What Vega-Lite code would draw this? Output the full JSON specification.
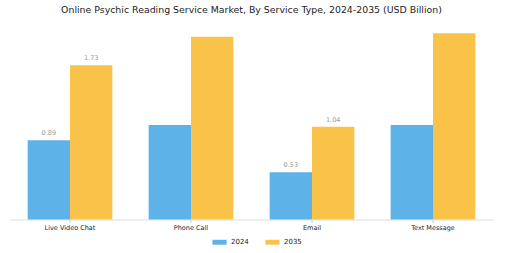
{
  "$schema": "https://vega.github.io/schema/vega-lite/v6.json",
  "width": 484,
  "height": 196,
  "autosize": "none",
  "padding": {"left": 9.5, "top": 23.5, "right": 11.5, "bottom": 33.5},
  "background": "white",
  "title": {"text": "Online Psychic Reading Service Market, By Service Type, 2024-2035 (USD Billion)", "font": "DejaVu Sans", "fontSize": 9.4, "fontWeight": "normal", "color": "#222222", "offset": 8, "anchor": "middle"},
  "config": {"view": {"stroke": null}, "font": "DejaVu Sans"},
  "data": {"values": [
    {"type": "Live Video Chat", "year": "2024", "value": 0.89, "label": "0.89"},
    {"type": "Live Video Chat", "year": "2035", "value": 1.73, "label": "1.73"},
    {"type": "Phone Call", "year": "2024", "value": 1.06, "label": null},
    {"type": "Phone Call", "year": "2035", "value": 2.05, "label": null},
    {"type": "Email", "year": "2024", "value": 0.53, "label": "0.53"},
    {"type": "Email", "year": "2035", "value": 1.04, "label": "1.04"},
    {"type": "Text Message", "year": "2024", "value": 1.06, "label": null},
    {"type": "Text Message", "year": "2035", "value": 2.09, "label": null}
  ]},
  "encoding": {
    "x": {"field": "type", "type": "nominal", "sort": null, "title": null,
      "scale": {"paddingInner": 0.3, "paddingOuter": 0.15},
      "axis": {"labelAngle": 0, "labelFontSize": 6.5, "labelColor": "#222222", "domainColor": "#dddddd", "tickColor": "#cccccc", "tickSize": 3, "labelPadding": 2}},
    "xOffset": {"field": "year", "type": "nominal"},
    "y": {"field": "value", "type": "quantitative", "scale": {"domain": [0, 2.2]}, "axis": null}
  },
  "layer": [
    {"mark": {"type": "bar"},
     "encoding": {"color": {"field": "year", "type": "nominal", "title": null,
       "scale": {"domain": ["2024", "2035"], "range": ["#5DB3E8", "#F9C34A"]},
       "legend": {"orient": "none", "legendX": 202.5, "legendY": 211, "direction": "horizontal", "symbolType": "M-1,-0.35 H1 V0.35 H-1 Z", "symbolSize": 200, "labelFontSize": 7, "labelColor": "#222222", "columnPadding": 16, "symbolStrokeWidth": 0, "labelOffset": 4}}}},
    {"transform": [{"filter": "datum.label != null"}],
     "mark": {"type": "text", "fontSize": 6.5, "color": "#999999", "baseline": "bottom", "dy": -4},
     "encoding": {"text": {"field": "label"}}}
  ]
}
